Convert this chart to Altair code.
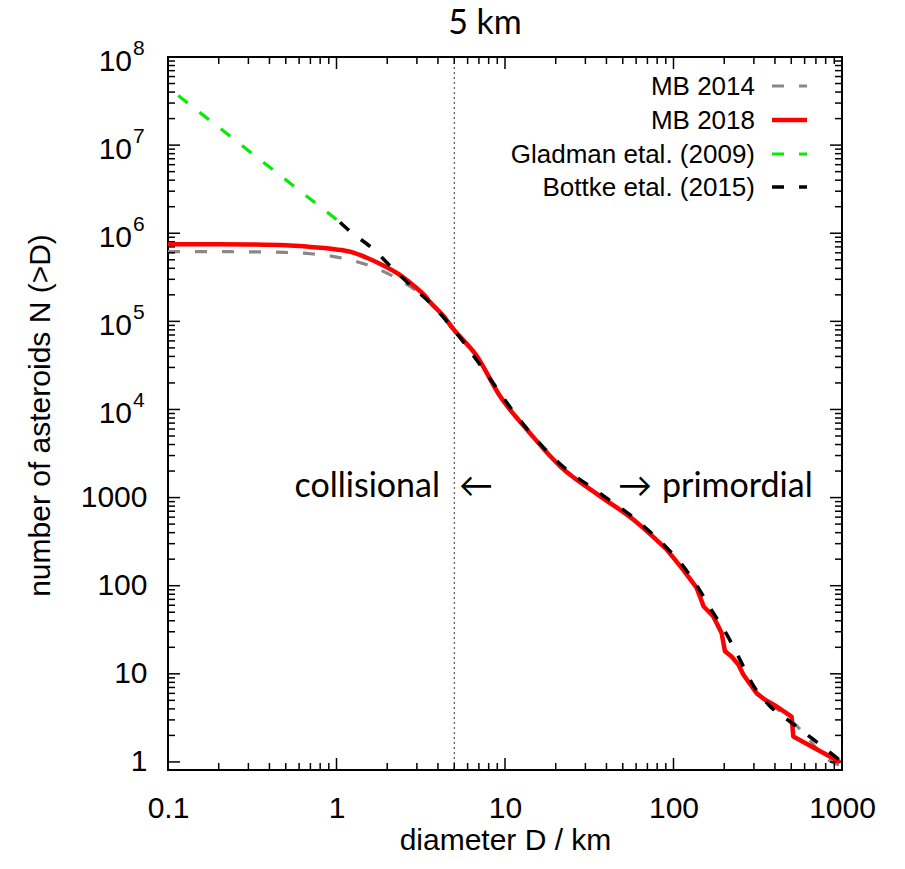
import altair as alt
import pandas as pd

# ---------------- data ----------------
D_2018 = [0.1, 0.2, 0.3, 0.5, 0.7, 0.85, 1.0, 1.23, 1.5, 1.77, 2.33, 2.9, 3.35, 3.6, 4.3, 4.93,
          6.8, 9.33, 13.4, 21.2, 36.6, 57.7, 91.3, 114, 137, 151, 172, 193, 202, 221, 243,
          260, 312, 349, 410, 502, 514, 972]
N_2018 = [7.5e5, 7.5e5, 7.45e5, 7.3e5, 7.0e5, 6.8e5, 6.55e5, 6.1e5, 5.3e5, 4.6e5, 3.45e5, 2.5e5,
          1.95e5, 1.65e5, 1.16e5, 8.2e4, 4.05e4, 1.42e4, 6.0e3, 2.28e3, 1.04e3, 565, 257, 152,
          95, 58, 45, 29, 18, 15.7, 12.7, 9.75, 6.0, 5.07, 4.25, 3.27, 1.94, 1.0]

D_2014 = [0.1, 0.3, 0.5, 0.7, 1.02, 1.4, 1.76, 2.32, 3.0, 3.6, 4.93, 6.8, 9.33, 13.4, 21.2,
          36.6, 57.7, 91.3, 114, 137, 151, 172, 193, 202, 221, 243, 260, 312, 349, 410, 480,
          514, 600, 770, 870, 960]
N_2014 = [6.2e5, 6.15e5, 6.05e5, 5.85e5, 5.33e5, 4.6e5, 3.93e5, 3.02e5, 2.2e5, 1.62e5, 8.1e4,
          4.0e4, 1.41e4, 5.9e3, 2.25e3, 1.04e3, 560, 255, 150, 94, 60, 44, 29, 19, 15.5, 12.5,
          9.6, 6.0, 4.8, 4.0, 3.3, 2.8, 2.1, 1.15, 1.0, 0.92]

D_gladman = [0.115, 1.05]
N_gladman = [3.65e7, 1.33e6]

D_bottke = [1.05, 1.2, 1.65, 2.17, 2.86, 3.6, 4.93, 7.6, 11.7, 21, 37, 58, 91, 112, 140, 169,
            207, 248, 295, 369, 500, 676, 1000]
N_bottke = [1.33e6, 1.06e6, 6.6e5, 3.93e5, 2.4e5, 1.62e5, 8.2e4, 2.7e4, 8.5e3, 2.45e3, 1.1e3,
            590, 270, 175, 95, 52, 28, 14.5, 7.6, 4.4, 2.8, 1.8, 1.0]

series_names = ["MB 2014", "MB 2018", "Gladman etal. (2009)", "Bottke etal. (2015)"]
series_colors = ["#888888", "#ff0000", "#00ee00", "#000000"]

x_major = [0.1, 1, 10, 100, 1000]
x_minor = [m * f for f in [0.1, 1, 10, 100] for m in range(2, 10)]
y_major = [1, 10, 100, 1000, 1e4, 1e5, 1e6, 1e7, 1e8]
y_minor = [m * f for f in [1, 10, 100, 1000, 1e4, 1e5, 1e6, 1e7] for m in range(2, 10)]
y_plain_labels = [1, 10, 100, 1000]
y_pow_values = [1e4, 1e5, 1e6, 1e7, 1e8]
y_pow_exps = ["4", "5", "6", "7", "8"]
D_split = [5]
D_smooth_end = 91.3   # smooth part of the measured curves ends here; beyond it they are piecewise

W, H = 674, 713
FONT = "Liberation Sans"
FONT2 = "Lato"

xs = alt.Scale(type="log", domain=[0.1, 1000], nice=False)
ys = alt.Scale(type="log", domain=[0.81, 1e8], nice=False)

XAX = alt.Axis(values=x_major, labelExpr="format(datum.value, '~g')", tickSize=0,
               domain=False, grid=False, labelFont=FONT, labelFontSize=30,
               labelColor="black", labelPadding=23, labelFlush=False,
               labelOverlap=False, labelBound=False,
               title="diameter D / km", titleFont=FONT, titleFontSize=30,
               titleFontWeight="normal", titleColor="black", titleX=337, titleY=70,
               titleAlign="center", titleBaseline="middle")
YAX = alt.Axis(values=y_plain_labels, labelExpr="format(datum.value, '~g')",
               tickSize=0, domain=False, grid=False, labelFont=FONT,
               labelFontSize=30, labelColor="black", labelPadding=21,
               labelOverlap=False, labelBound=False, labelFlush=False,
               title="number of asteroids N (>D)", titleFont=FONT, titleFontSize=30,
               titleFontWeight="normal", titleColor="black", titleX=-128, titleY=358,
               titleAngle=270, titleAlign="center", titleBaseline="middle")


def X(field):
    return alt.X(field, type="quantitative", scale=xs, axis=XAX)


def Y(field):
    return alt.Y(field, type="quantitative", scale=ys, axis=YAX)


def line_layers(D, N, name, color, dash=None, width=3.5, split_at=None):
    df = pd.DataFrame({"D": D, "N": N, "s": name})
    kw = dict(color=color, strokeWidth=width, strokeCap="butt", strokeJoin="round")
    if dash:
        kw["strokeDash"] = dash
    base = alt.Chart(df)
    if split_at is None:
        return [base.mark_line(interpolate="monotone", **kw).encode(x=X("D"), y=Y("N"))]
    smooth = base.transform_filter(alt.datum.D <= split_at).mark_line(
        interpolate="monotone", **kw).encode(x=X("D"), y=Y("N"))
    jagged = base.transform_filter(alt.datum.D >= split_at).mark_line(
        interpolate="linear", **kw).encode(x=X("D"), y=Y("N"))
    return [smooth, jagged]


gray = line_layers(D_2014, N_2014, series_names[0], series_colors[0], dash=[12, 15], width=3.2,
                   split_at=D_smooth_end)
red = line_layers(D_2018, N_2018, series_names[1], series_colors[1], width=4.5,
                  split_at=D_smooth_end)
green = line_layers(D_gladman, N_gladman, series_names[2], series_colors[2], dash=[12, 15], width=3.2)
black = line_layers(D_bottke, N_bottke, series_names[3], series_colors[3], dash=[12, 15], width=3.5)

# dotted separation line at D = 5 km
split = alt.Chart(pd.DataFrame({"D": D_split})).mark_rule(
    color="#333333", strokeWidth=1, strokeDash=[2, 3]
).encode(x=X("D"), y=alt.value(0), y2=alt.value(H))


# inward ticks on all four sides
def xticks(vals, y0, y1):
    return alt.Chart(pd.DataFrame({"D": vals})).mark_rule(color="black", strokeWidth=1.5).encode(
        x=X("D"), y=alt.value(y0), y2=alt.value(y1))


def yticks(vals, x0, x1):
    return alt.Chart(pd.DataFrame({"N": vals})).mark_rule(color="black", strokeWidth=1.5).encode(
        y=Y("N"), x=alt.value(x0), x2=alt.value(x1))


ticks = [
    xticks(x_major, H, H - 12), xticks(x_minor, H, H - 7),
    xticks(x_major, 0, 12), xticks(x_minor, 0, 7),
    yticks(y_major, 0, 12), yticks(y_minor, 0, 7),
    yticks(y_major, W, W - 12), yticks(y_minor, W, W - 7),
]

# power-of-ten labels "10" + superscript exponent
pow_df = pd.DataFrame({"N": y_pow_values, "e": y_pow_exps, "b": ["10"] * len(y_pow_values)})
pow_base = alt.Chart(pow_df).mark_text(
    font=FONT, fontSize=30, align="right", baseline="middle", dy=5, color="black"
).encode(y=Y("N"), x=alt.value(-36), text="b:N")
pow_exp = alt.Chart(pow_df).mark_text(
    font=FONT, fontSize=21, align="left", baseline="middle", dy=-8, color="black"
).encode(y=Y("N"), x=alt.value(-35), text="e:N")

# legend (top right, labels right-aligned, sample to the right)
legend_rows = [29, 63, 97, 130]
legend_dash = [[12, 15], None, [12, 15], [12, 15]]
legend_width = [3.2, 4.5, 3.2, 3.5]
legend_layers = []
for name, col, yy, dash, wdt in zip(series_names, series_colors, legend_rows, legend_dash, legend_width):
    ldf = pd.DataFrame({"label": [name]})
    legend_layers.append(
        alt.Chart(ldf).mark_text(font=FONT, fontSize=26, align="right", baseline="middle",
                                 color="black").encode(
            text="label:N", x=alt.value(587), y=alt.value(yy + 1))
    )
    kw = dict(color=col, strokeWidth=wdt, strokeCap="butt")
    if dash:
        kw["strokeDash"] = dash
    legend_layers.append(
        alt.Chart(ldf).mark_rule(**kw).encode(x=alt.value(604), x2=alt.value(639), y=alt.value(yy))
    )

# annotations and title
annot = [
    ("collisional", 272, "right"),
    ("\u2190", 325, "right"),
    ("\u2192", 450, "left"),
    ("primordial", 494, "left"),
]
annot_layers = []
for txt, xx, al in annot:
    annot_layers.append(
        alt.Chart(pd.DataFrame({"t": [txt]})).mark_text(
            font=FONT2, fontSize=34, align=al, baseline="middle", color="black"
        ).encode(text="t:N", x=alt.value(xx), y=alt.value(430))
    )
title_layer = alt.Chart(pd.DataFrame({"t": ["5 km"]})).mark_text(
    font=FONT2, fontSize=34, align="center", baseline="middle", color="black"
).encode(text="t:N", x=alt.value(317), y=alt.value(-33))

chart = alt.layer(
    *gray, split, *ticks, *red, *green, *black, pow_base, pow_exp,
    *legend_layers, *annot_layers, title_layer
).properties(
    width=W, height=H,
    autosize=alt.AutoSizeParams(type="none"),
    padding={"left": 168, "top": 57, "right": 63, "bottom": 99},
    background="white",
).configure_view(stroke="black", strokeWidth=2)

chart.save("out.html", embed_options={"renderer": "svg", "actions": False})
